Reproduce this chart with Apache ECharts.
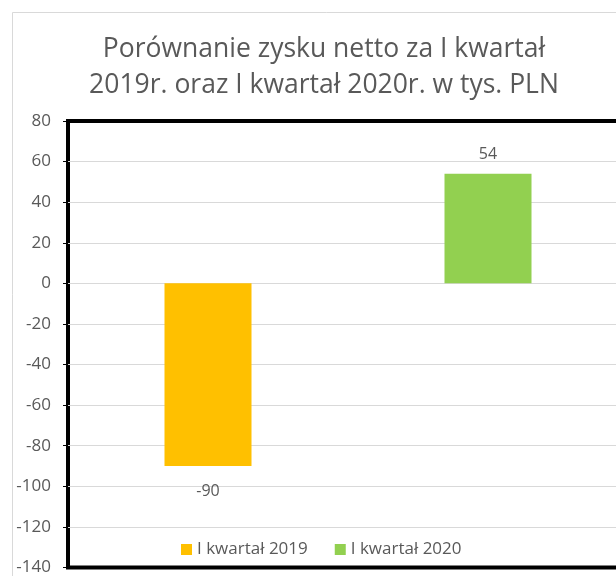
<!DOCTYPE html>
<html>
<head>
<meta charset="utf-8">
<script src="https://cdn.jsdelivr.net/npm/echarts@6/dist/echarts.min.js"></script>
<style>
  html, body { margin: 0; padding: 0; background: #fff; overflow: hidden; }
  #main { width: 640px; height: 576px; }
</style>
</head>
<body>
<div id="main"></div>
<script>
const titleText = 'Porównanie zysku netto za I kwartał\n2019r. oraz I kwartał 2020r. w tys. PLN'
const categories = ['I kwartał 2019', 'I kwartał 2020']
const seriesNames = ['I kwartał 2019', 'I kwartał 2020']
const values2019 = [-90, '-']
const values2020 = ['-', 54]
const yMin = -140
const yMax = 80
const yStep = 20

const chart = echarts.init(document.getElementById('main'), null, { renderer: 'canvas' })

const font = 'Open Sans, Noto Sans, sans-serif'

var option = {
  backgroundColor: '#fff',
  animation: false,
  graphic: [{
    type: 'rect',
    left: 10,
    top: 10,
    shape: { width: 700, height: 700 },
    style: { fill: 'none', stroke: '#d9d9d9', lineWidth: 1 },
    z: -1
  }],
  title: {
    text: titleText,
    left: 319,
    top: 26,
    textAlign: 'center',
    textStyle: {
      color: '#595959',
      fontSize: 26.5,
      fontWeight: 'normal',
      fontFamily: font,
      lineHeight: 36
    }
  },
  grid: {
    left: 68,
    top: 121,
    right: 12,
    bottom: 5,
    show: true,
    borderColor: '#000',
    borderWidth: 4,
    containLabel: false
  },
  legend: {
    data: seriesNames,
    left: 181,
    top: 541,
    padding: 0,
    itemWidth: 11,
    itemHeight: 11,
    itemGap: 27,
    icon: 'rect',
    textStyle: {
      color: '#595959',
      fontSize: 17,
      fontFamily: font
    }
  },
  xAxis: {
    type: 'category',
    data: categories,
    axisLine: { show: false },
    axisTick: { show: false },
    axisLabel: { show: false },
    splitLine: { show: false }
  },
  yAxis: {
    type: 'value',
    min: yMin,
    max: yMax,
    interval: yStep,
    axisLine: { show: false },
    axisTick: {
      show: true,
      inside: false,
      length: 5,
      lineStyle: { color: '#000', width: 1 }
    },
    axisLabel: {
      color: '#595959',
      fontSize: 17,
      fontFamily: font,
      margin: 17
    },
    splitLine: {
      showMinLine: false,
      showMaxLine: false,
      lineStyle: { color: '#d9d9d9', width: 1 }
    }
  },
  series: [{
    name: seriesNames[0],
    type: 'bar',
    stack: 'q',
    barWidth: 87,
    itemStyle: { color: '#FFC000' },
    label: {
      show: true,
      position: 'bottom',
      distance: 17,
      color: '#595959',
      fontSize: 16,
      fontFamily: font
    },
    data: values2019
  }, {
    name: seriesNames[1],
    type: 'bar',
    stack: 'q',
    barWidth: 87,
    itemStyle: { color: '#92D050' },
    label: {
      show: true,
      position: 'top',
      distance: 11,
      color: '#595959',
      fontSize: 16,
      fontFamily: font
    },
    data: values2020
  }]
}

chart.setOption(option)
</script>
</body>
</html>
